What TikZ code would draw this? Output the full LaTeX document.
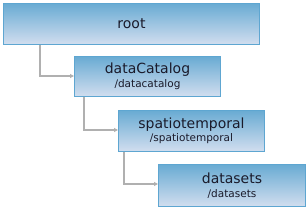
\documentclass[tikz,border=0pt]{standalone}
\usepackage{fontspec}
\setmainfont{DejaVu Sans}
\usetikzlibrary{arrows.meta}
\definecolor{boxtop}{HTML}{69ABD3}
\definecolor{boxbot}{HTML}{D2DEEF}
\definecolor{boxline}{HTML}{5EA6D1}
\definecolor{linkgray}{HTML}{B0B0B0}
\definecolor{txt}{HTML}{1A1A2A}
\tikzset{
  folder/.style={draw=boxline, line width=1pt, top color=boxtop, bottom color=boxbot,
    inner sep=0pt, anchor=north west, text=txt, align=center,
    font=\fontsize{10.5}{13.5}\selectfont},
  link/.style={draw=linkgray, line width=1.2pt, -{Triangle[length=4pt,width=4pt]}},
}
\newcommand{\ttl}[1]{{\fontsize{14}{15}\selectfont #1}}
\newcommand{\sub}[1]{{\fontsize{10.5}{11}\selectfont #1}}
\begin{document}
\begin{tikzpicture}[x=1pt,y=-1pt]
\useasboundingbox (0,0) rectangle (307,208);
\node[folder, minimum width=256pt, minimum height=41pt] (root) at (3,3) {\ttl{root}};
\node[folder, minimum width=146pt, minimum height=40pt] (dc) at (74,56) {\ttl{dataCatalog}\\\sub{/datacatalog}};
\node[folder, minimum width=146pt, minimum height=41pt] (st) at (118,110) {\ttl{spatiotemporal}\\\sub{/spatiotemporal}};
\node[folder, minimum width=147pt, minimum height=42pt] (ds) at (158,164) {\ttl{datasets}\\\sub{/datasets}};
\draw[link] (root.south west) ++(37,0) coordinate (r0) |- (dc.west |- 0,76);
\draw[link] (dc.south west) ++(10,0) |- (st.west |- 0,130);
\draw[link] (st.south west) ++(6,0) |- (ds.west |- 0,184);
\end{tikzpicture}
\end{document}
